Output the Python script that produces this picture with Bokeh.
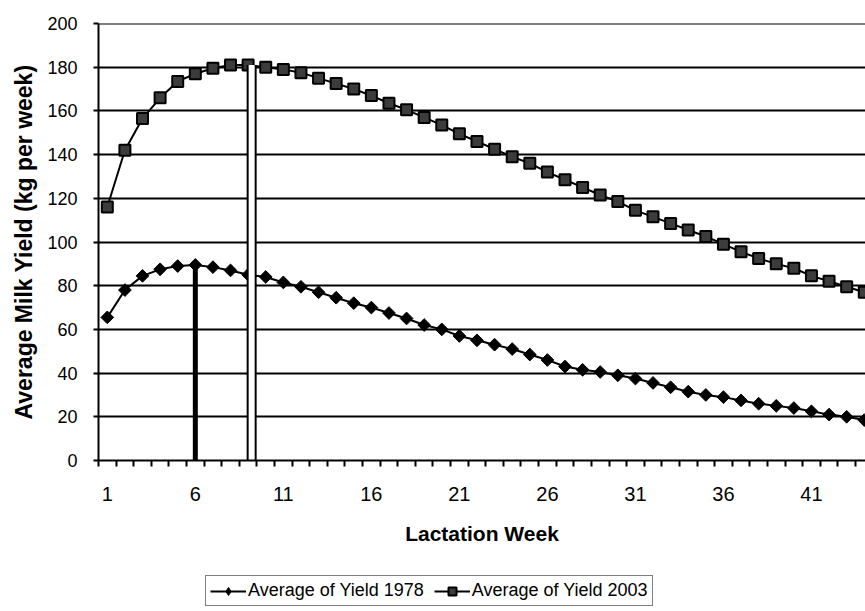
from bokeh.plotting import figure
from bokeh.layouts import column
from bokeh.models import (FixedTicker, Legend, LegendItem, Span, Range1d,
                          ColumnDataSource)
from bokeh.embed import file_html
from bokeh.resources import INLINE

# ---- data ----
weeks = list(range(1, 45))
yield_1978 = [65.5, 78, 84.5, 87.5, 89, 89.5, 88.5, 87, 85, 84,
              81.5, 79.5, 77, 74.5, 72, 70, 67.5, 65, 62, 60,
              57, 55, 53, 51, 48.5, 46, 43, 41.5, 40.5, 39,
              37.5, 35.5, 33.5, 31.5, 30, 29, 27.5, 26, 25, 24,
              22.5, 21, 20, 18.5]
yield_2003 = [116, 142, 156.5, 166, 173.5, 177, 179.5, 181, 181, 180,
              179, 177.5, 175, 172.5, 170, 167, 163.5, 160.5, 157, 153.5,
              149.5, 146, 142.5, 139, 136, 132, 128.5, 125, 121.5, 118.5,
              114.5, 111.5, 108.5, 105.5, 102.5, 99, 95.5, 92.5, 90, 88,
              84.5, 82, 79.5, 77]
x_tick_labels = [1, 6, 11, 16, 21, 26, 31, 36, 41]
y_ticks = [0, 20, 40, 60, 80, 100, 120, 140, 160, 180, 200]
series_names = ["Average of Yield 1978", "Average of Yield 2003"]
peak_week_1978 = [6]
peak_value_1978 = [89.5]
peak_week_2003 = [9.2]
peak_value_2003 = [181]

FONT = "Liberation Sans"

p = figure(width=865, height=560, output_backend="svg", toolbar_location=None,
           x_range=Range1d(0.5, 44.07), y_range=Range1d(0, 200),
           min_border_left=98, min_border_right=0, min_border_top=23,
           min_border_bottom=100, background_fill_color="white",
           border_fill_color="white")
p.outline_line_color = None

# axes
p.xaxis.ticker = FixedTicker(ticks=x_tick_labels,
                             minor_ticks=[w - 0.5 for w in weeks])
p.xaxis.major_tick_out = 0
p.xaxis.major_tick_in = 0
p.xaxis.major_tick_line_color = None
p.xaxis.minor_tick_out = 6
p.xaxis.minor_tick_in = 0
p.xaxis.minor_tick_line_color = "black"
p.xaxis.minor_tick_line_width = 2
p.xaxis.major_label_standoff = 20
p.xaxis.major_label_text_font = FONT
p.xaxis.major_label_text_font_size = "20px"
p.xaxis.major_label_text_color = "black"
p.xaxis.axis_label = "Lactation Week"
p.xaxis.axis_label_text_font = FONT
p.xaxis.axis_label_text_font_size = "21px"
p.xaxis.axis_label_text_font_style = "bold"
p.xaxis.axis_label_text_color = "black"
p.xaxis.axis_label_standoff = 18
p.xaxis.axis_line_color = "black"
p.xaxis.axis_line_width = 2

p.yaxis.ticker = FixedTicker(ticks=y_ticks)
p.yaxis.major_tick_out = 5
p.yaxis.major_tick_in = 0
p.yaxis.major_tick_line_width = 2
p.yaxis.major_tick_line_color = "black"
p.yaxis.minor_tick_line_color = None
p.yaxis.major_label_standoff = 16
p.yaxis.major_label_text_font = FONT
p.yaxis.major_label_text_font_size = "18px"
p.yaxis.major_label_text_color = "black"
p.yaxis.axis_label = "Average Milk Yield (kg per week)"
p.yaxis.axis_label_text_font = FONT
p.yaxis.axis_label_text_font_size = "23px"
p.yaxis.axis_label_text_font_style = "bold"
p.yaxis.axis_label_text_color = "black"
p.yaxis.axis_label_standoff = 7
p.yaxis.axis_line_color = "black"
p.yaxis.axis_line_width = 2

p.xgrid.grid_line_color = None
p.ygrid.ticker = FixedTicker(ticks=y_ticks)
p.ygrid.grid_line_color = "black"
p.ygrid.grid_line_width = 2
p.add_layout(Span(location=y_ticks[-1], dimension="width",
                  line_color="black", line_width=2))

src = ColumnDataSource(dict(week=weeks, y78=yield_1978, y03=yield_2003))

# drop line for 1978 peak
p.segment(x0=peak_week_1978, y0=[0], x1=peak_week_1978, y1=peak_value_1978,
          line_color="black", line_width=5)

# series
line_style = dict(line_color="black", line_width=2)
m78 = dict(marker="square", angle=0.785398, size=9, fill_color="black",
           line_color="black", line_width=1)
m03 = dict(marker="square", size=11, fill_color="#3c3c3c",
           line_color="black", line_width=2)
p.line("week", "y78", source=src, **line_style)
p.scatter("week", "y78", source=src, **m78)
p.line("week", "y03", source=src, **line_style)
p.scatter("week", "y03", source=src, **m03)

# double (white) drop line for 2003 peak
p.segment(x0=peak_week_2003, y0=[0], x1=peak_week_2003, y1=peak_value_2003,
          line_color="black", line_width=10)
p.segment(x0=peak_week_2003, y0=[0], x1=peak_week_2003, y1=peak_value_2003,
          line_color="white", line_width=6)

# ---- legend strip (separate figure below the chart) ----
# its renderers reuse the series data but its ranges keep them out of view
q = figure(width=865, height=51, output_backend="svg", toolbar_location=None,
           x_range=Range1d(1000, 1001), y_range=Range1d(1000, 1001),
           min_border_left=0, min_border_right=0, min_border_top=0,
           min_border_bottom=0, background_fill_color="white",
           border_fill_color="white")
q.outline_line_color = None
q.axis.visible = False
q.grid.visible = False
ql78 = q.line("week", "y78", source=src, **line_style)
qs78 = q.scatter("week", "y78", source=src, marker="diamond", size=15,
                 fill_color="black", line_color="black", line_width=1)
ql03 = q.line("week", "y03", source=src, **line_style)
qs03 = q.scatter("week", "y03", source=src, **m03)

legend = Legend(items=[LegendItem(label=series_names[0], renderers=[ql78, qs78]),
                       LegendItem(label=series_names[1], renderers=[ql03, qs03])],
                orientation="horizontal", location=(107, 5))
legend.label_text_font = FONT
legend.label_text_font_size = "18px"
legend.label_text_color = "black"
legend.border_line_color = "black"
legend.border_line_width = 1.5
legend.background_fill_color = "white"
legend.background_fill_alpha = 1
legend.glyph_width = 36
legend.glyph_height = 20
legend.label_standoff = 2
legend.spacing = 10
legend.padding = 4
legend.margin = 0
q.add_layout(legend, "center")

layout = column(p, q, spacing=0)
open("out.html", "w").write(file_html(layout, INLINE))
